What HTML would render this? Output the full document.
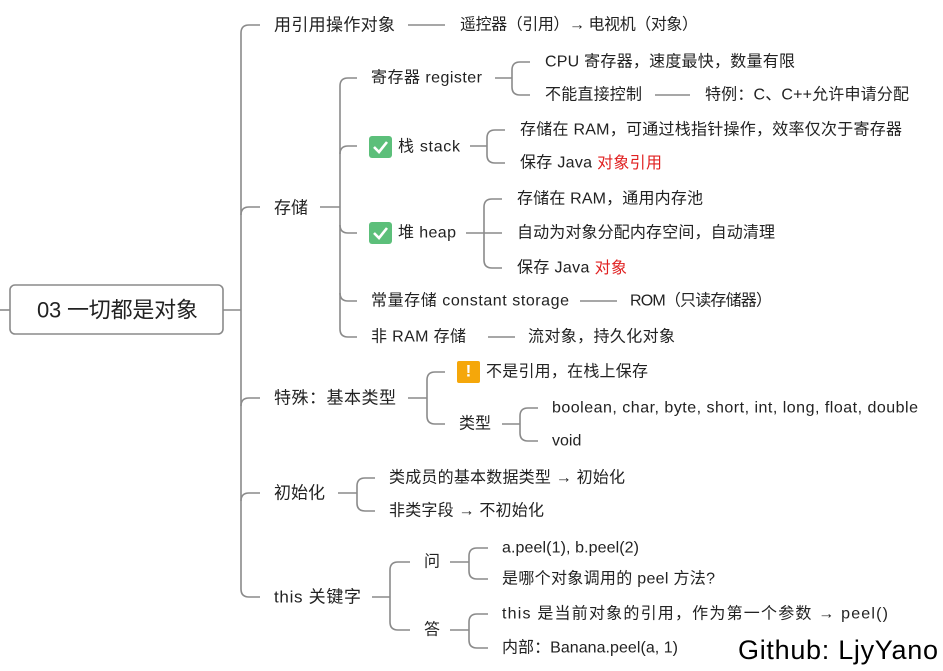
<!DOCTYPE html>
<html><head><meta charset="utf-8"><style>
html,body{margin:0;padding:0;background:#fff;width:943px;height:671px;overflow:hidden}
svg text{font-family:"Liberation Sans","Noto Sans CJK SC",sans-serif;fill:#222;dominant-baseline:central}
.s{font-size:16px}.l{font-size:17px}
path,line{stroke:#8a8a8a;stroke-width:1.6;fill:none}
</style></head><body>
<svg width="943" height="671" viewBox="0 0 943 671" xmlns="http://www.w3.org/2000/svg">
<line x1="0" y1="310" x2="10" y2="310"/>
<rect x="10" y="285" width="213" height="49" rx="5" fill="#fff" stroke="#8a8a8a" stroke-width="1.6"/>
<text x="37" y="310" style="font-size:22px" textLength="161">03 一切都是对象</text>
<line x1="223" y1="310" x2="241" y2="310"/>
<path d="M260 25 H249 Q241 25 241 33 V589 Q241 597 249 597 H260"/>
<path d="M241 215 Q241 207 249 207 H260"/>
<path d="M241 406 Q241 398 249 398 H260"/>
<path d="M241 501 Q241 493 249 493 H260"/>
<text class="l" x="274" y="25" textLength="121">用引用操作对象</text>
<line x1="408" y1="25" x2="445" y2="25"/>
<text class="s" x="460" y="25" textLength="238">遥控器（引用）→ 电视机（对象）</text>
<text class="l" x="274" y="208">存储</text>
<line x1="320" y1="207" x2="340" y2="207"/>
<path d="M357 78 H348 Q340 78 340 86 V329 Q340 337 348 337 H357"/>
<path d="M340 154 Q340 146 348 146 H357"/>
<path d="M340 225 Q340 233 348 233 H357"/>
<path d="M340 293 Q340 301 348 301 H357"/>
<text class="s" x="371" y="78" textLength="111">寄存器 register</text>
<line x1="495" y1="78" x2="512" y2="78"/>
<path d="M530 62 H520 Q512 62 512 70 V87 Q512 95 520 95 H530"/>
<text class="s" x="545" y="62" textLength="250">CPU 寄存器，速度最快，数量有限</text>
<text class="s" x="545" y="95" textLength="97">不能直接控制</text>
<line x1="655" y1="95" x2="690" y2="95"/>
<text class="s" x="705" y="95" textLength="204">特例：C、C++允许申请分配</text>
<rect x="369" y="136" width="23" height="22" rx="3" fill="#5cbf7a"/>
<path d="M374 147 L379 152 L387 142" style="stroke:#fff;stroke-width:2.6"/>
<text class="s" x="398" y="147" textLength="62">栈 stack</text>
<line x1="470" y1="146" x2="487" y2="146"/>
<path d="M505 130 H495 Q487 130 487 138 V155 Q487 163 495 163 H505"/>
<text class="s" x="520" y="130" textLength="382">存储在 RAM，可通过栈指针操作，效率仅次于寄存器</text>
<text class="s" x="520" y="163" textLength="142">保存 Java <tspan style="fill:#e02020">对象引用</tspan></text>
<rect x="369" y="222" width="23" height="22" rx="3" fill="#5cbf7a"/>
<path d="M374 233 L379 238 L387 228" style="stroke:#fff;stroke-width:2.6"/>
<text class="s" x="398" y="233" textLength="58">堆 heap</text>
<line x1="466" y1="233" x2="484" y2="233"/>
<path d="M502 199 H492 Q484 199 484 207 V260 Q484 268 492 268 H502"/>
<line x1="484" y1="233" x2="502" y2="233"/>
<text class="s" x="517" y="199" textLength="186">存储在 RAM，通用内存池</text>
<text class="s" x="517" y="233" textLength="258">自动为对象分配内存空间，自动清理</text>
<text class="s" x="517" y="268" textLength="110">保存 Java <tspan style="fill:#e02020">对象</tspan></text>
<text class="s" x="371" y="301" textLength="198">常量存储 constant storage</text>
<line x1="580" y1="301" x2="617" y2="301"/>
<text class="s" x="630" y="301" textLength="142">ROM（只读存储器）</text>
<text class="s" x="371" y="337" textLength="95">非 RAM 存储</text>
<line x1="488" y1="337" x2="515" y2="337"/>
<text class="s" x="528" y="337" textLength="147">流对象，持久化对象</text>
<text class="l" x="274" y="398" textLength="122">特殊：基本类型</text>
<line x1="408" y1="398" x2="427" y2="398"/>
<path d="M445 372 H435 Q427 372 427 380 V416 Q427 424 435 424 H445"/>
<rect x="457" y="361" width="23" height="22" rx="2" fill="#f5a70a"/>
<text x="468.5" y="371" style="font-size:17px;fill:#fff;font-weight:bold" text-anchor="middle">!</text>
<text class="s" x="486" y="372" textLength="162">不是引用，在栈上保存</text>
<text class="s" x="459" y="424">类型</text>
<line x1="502" y1="424" x2="520" y2="424"/>
<path d="M538 408 H528 Q520 408 520 416 V433 Q520 441 528 441 H538"/>
<text class="s" x="552" y="408" textLength="366">boolean, char, byte, short, int, long, float, double</text>
<text class="s" x="552" y="441">void</text>
<text class="l" x="274" y="493">初始化</text>
<line x1="338" y1="493" x2="357" y2="493"/>
<path d="M375 478 H365 Q357 478 357 486 V503 Q357 511 365 511 H375"/>
<text class="s" x="389" y="478" textLength="236">类成员的基本数据类型 → 初始化</text>
<text class="s" x="389" y="511" textLength="155">非类字段 → 不初始化</text>
<text class="l" x="274" y="597" textLength="87">this 关键字</text>
<line x1="372" y1="597" x2="390" y2="597"/>
<path d="M410 562 H398 Q390 562 390 570 V622 Q390 630 398 630 H410"/>
<text class="s" x="424" y="562">问</text>
<line x1="450" y1="562" x2="469" y2="562"/>
<path d="M488 548 H477 Q469 548 469 556 V571 Q469 579 477 579 H488"/>
<text class="s" x="502" y="548" textLength="137">a.peel(1), b.peel(2)</text>
<text class="s" x="502" y="579" textLength="213">是哪个对象调用的 peel 方法?</text>
<text class="s" x="424" y="630">答</text>
<line x1="450" y1="630" x2="469" y2="630"/>
<path d="M488 614 H477 Q469 614 469 622 V640 Q469 648 477 648 H488"/>
<text class="s" x="502" y="614" textLength="386">this 是当前对象的引用，作为第一个参数 → peel()</text>
<text class="s" x="502" y="648" textLength="176">内部：Banana.peel(a, 1)</text>
<text x="738" y="650" style="font-size:27px;fill:#000" textLength="200">Github: LjyYano</text>
</svg>
</body></html>
